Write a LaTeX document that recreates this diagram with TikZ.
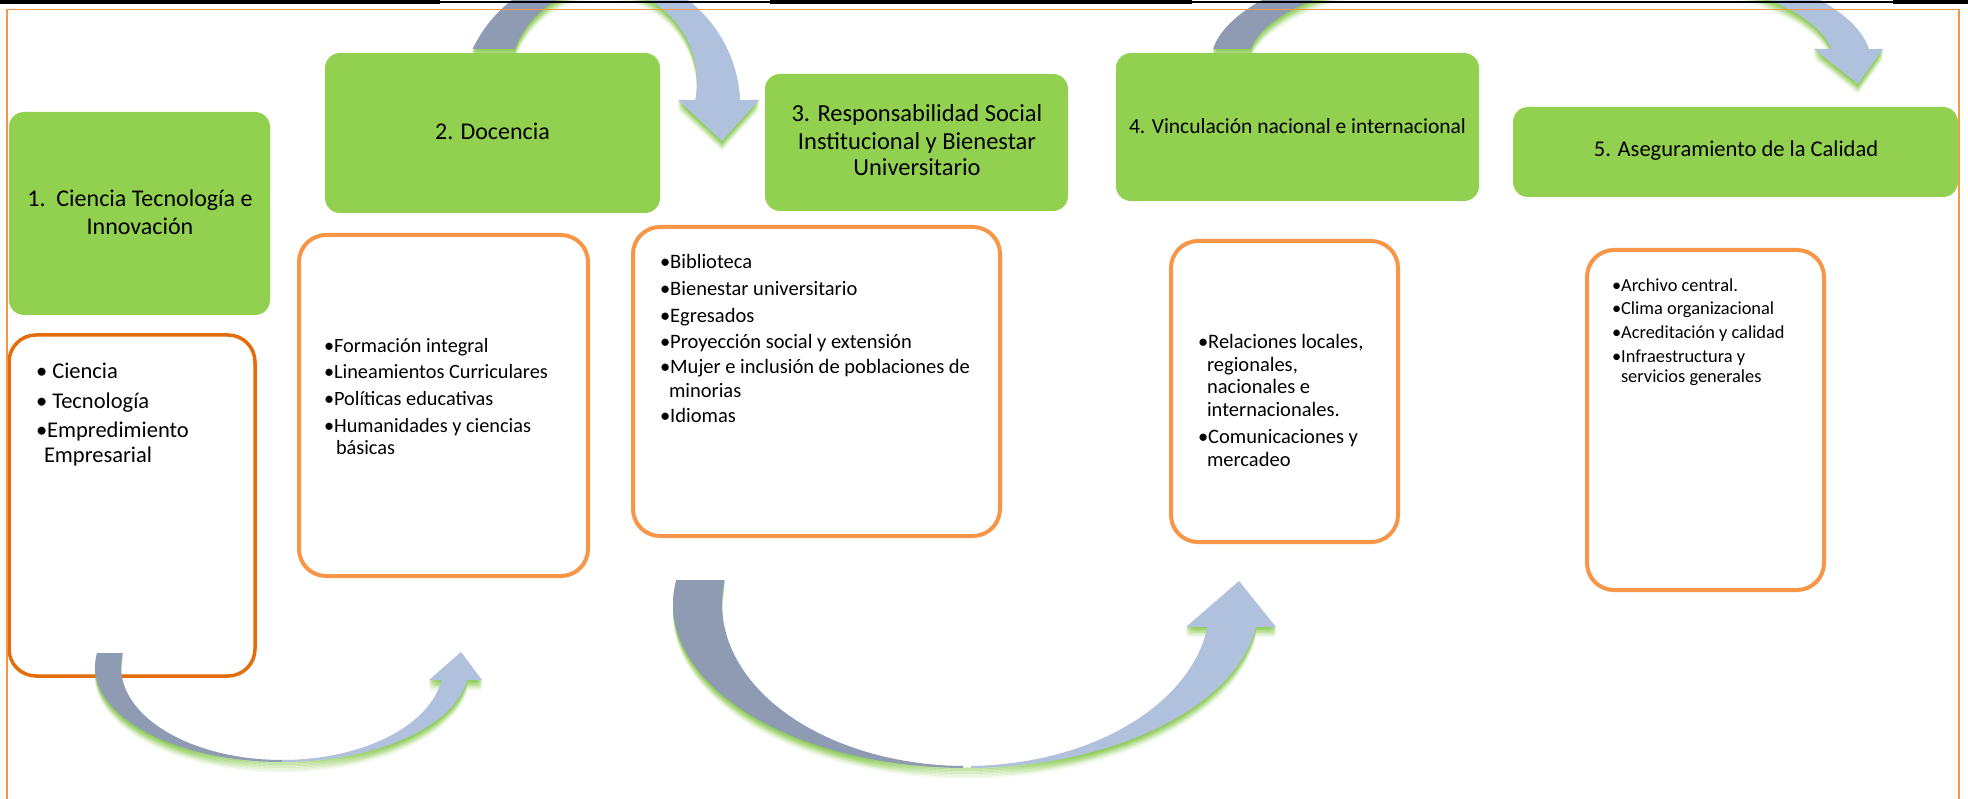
\documentclass[tikz,border=0pt]{standalone}
\usepackage{fontspec}
\setmainfont{Carlito}
\definecolor{gbox}{HTML}{92D050}
\definecolor{dorange}{HTML}{E46C0A}
\definecolor{lorange}{HTML}{F79646}
\definecolor{arrdark}{HTML}{8E9BB3}
\definecolor{arrlight}{HTML}{B0C1DD}
\definecolor{glow}{HTML}{7FC63E}
\tikzset{
  greenbox/.style={fill=gbox, rounded corners=15pt, inner sep=0pt, outer sep=0pt},
  listbox/.style={draw=lorange, line width=4pt, fill=white, rounded corners=27pt, inner sep=0pt, outer sep=0pt},
  txt/.style={anchor=base west, inner sep=0pt, outer sep=0pt, text=black},
  ttl/.style={anchor=base, inner sep=0pt, outer sep=0pt, text=black},
}
\newcommand\putline[5]{\node[txt,font=\fontsize{#4pt}{#4pt}\selectfont] (#1) at (#2,#3) {#5};}
\newcommand\puttitle[5]{\node[ttl,font=\fontsize{#4pt}{#4pt}\selectfont] (#1) at (#2,#3) {#5};}
% arrow outlines (pixel coordinates, y downwards)
\newcommand\arrA{(97.1,653) -- plot[domain=188.5:7.9,samples=90] ({282+187*cos(\x)},{667+95*sin(\x)}) -- (482,680) -- (461,652) -- (429,680) -- plot[domain=8.04:188.66,samples=90] ({282+161*cos(\x)},{667+93*sin(\x)}) -- cycle}
\newcommand\arrB{(676.2,580) -- plot[domain=188.41:8.06,samples=120] ({966+293*cos(\x)},{604+164*sin(\x)}) -- (1276,627) -- (1239,581) -- (1186,627) -- plot[domain=8.16:188.52,samples=120] ({966+244*cos(\x)},{604+162*sin(\x)}) -- cycle}
\newcommand\arrC{(472.6,49) -- plot[domain=204.51:357.88,samples=80] ({600+140*cos(\x)},{105+135*sin(\x)}) -- (759,100) -- (722,141) -- (678,100) -- plot[domain=371.04:200.55,samples=80] ({603+94*cos(\x)},{82+94*sin(\x)}) -- cycle}
\newcommand\arrD{(1213.1,49) -- plot[domain=186.43:353.57,samples=120] ({1541+330*cos(\x)},{62+116*sin(\x)}) -- (1883,49) -- (1858,84) -- (1814,49) -- plot[domain=353.42:186.58,samples=120] ({1541+292*cos(\x)},{60+96*sin(\x)}) -- cycle}
\newcommand\drawarrow[3]{%
  \foreach \sh/\op in {1.5/0.4,3/0.33,4.5/0.27,6/0.22,7.5/0.16,9/0.11,10.5/0.07}{\fill[glow,opacity=\op,shift={(0,\sh)}] #1;}
  \begin{scope}\clip (0,-50) rectangle (#2,850); \fill[arrdark] #1; \end{scope}
  \begin{scope}\clip (#3,-50) rectangle (1968,850); \fill[arrlight] #1; \end{scope}
}
\begin{document}
\begin{tikzpicture}[x=1pt,y=-1pt]
\useasboundingbox (0,0) rectangle (1968,799);
\clip (0,0) rectangle (1968,799);
\fill[white] (0,0) rectangle (1968,799);

% upper arrows
\drawarrow{\arrC}{600}{600}
\drawarrow{\arrD}{1541}{1541}

% green title boxes
\node[greenbox, minimum width=261pt, minimum height=203pt] (g1) at (139.5,213.5) {};
\node[greenbox, minimum width=335pt, minimum height=160pt] (g2) at (492.5,133) {};
\node[greenbox, minimum width=303pt, minimum height=137pt] (g3) at (916.5,142.5) {};
\node[greenbox, minimum width=363pt, minimum height=148pt] (g4) at (1297.5,127) {};
\node[greenbox, minimum width=445pt, minimum height=90pt] (g5) at (1735.5,152) {};

% list boxes
\node[listbox, draw=dorange, line width=3.5pt, minimum width=246pt, minimum height=341pt] (l1) at (132,505.5) {};
\node[listbox, minimum width=289pt, minimum height=341pt] (l2) at (443.5,405.5) {};
\node[listbox, minimum width=367pt, minimum height=309pt] (l3) at (816.5,381.5) {};
\node[listbox, minimum width=227pt, minimum height=301pt] (l4) at (1284.5,391.5) {};
\node[listbox, minimum width=237pt, minimum height=340pt] (l5) at (1705.5,420) {};

% titles
\puttitle{t1a}{140}{207}{24}{1.\ \ Ciencia Tecnología e}
\puttitle{t1b}{140}{235}{24}{Innovación}
\puttitle{t2}{492.5}{140}{24}{2. Docencia}
\puttitle{t3a}{917}{122}{24.5}{3. Responsabilidad Social}
\puttitle{t3b}{917}{150}{24.5}{Institucional y Bienestar}
\puttitle{t3c}{917}{176}{24.5}{Universitario}
\puttitle{t4}{1297.5}{134}{21.5}{4. Vinculación nacional e internacional}
\puttitle{t5}{1736}{157}{22.5}{5. Aseguramiento de la Calidad}

% list texts
\putline{n11}{36}{379}{22.5}{• Ciencia}
\putline{n12}{36}{409}{22.5}{• Tecnología}
\putline{n13}{36}{438}{22.5}{•Empredimiento}
\putline{n14}{44}{462}{22.5}{Empresarial}

\putline{n21}{324}{353}{20.3}{•Formación integral}
\putline{n22}{324}{379}{20.3}{•Lineamientos Curriculares}
\putline{n23}{324}{406}{20.3}{•Políticas educativas}
\putline{n24}{324}{432}{20.3}{•Humanidades y ciencias}
\putline{n25}{336}{454}{20.3}{básicas}

\putline{n31}{660}{269}{20.5}{•Biblioteca}
\putline{n32}{660}{296}{20.5}{•Bienestar universitario}
\putline{n33}{660}{323}{20.5}{•Egresados}
\putline{n34}{660}{349}{20.5}{•Proyección social y extensión}
\putline{n35}{660}{374}{20.5}{•Mujer e inclusión de poblaciones de}
\putline{n36}{669}{398}{20.5}{minorias}
\putline{n37}{660}{423}{20.5}{•Idiomas}

\putline{n41}{1198}{349}{20.5}{•Relaciones locales,}
\putline{n42}{1207}{372}{20.5}{regionales,}
\putline{n43}{1207}{394}{20.5}{nacionales e}
\putline{n44}{1207}{417}{20.5}{internacionales.}
\putline{n45}{1198}{443}{20.5}{•Comunicaciones y}
\putline{n46}{1207}{466}{20.5}{mercadeo}

\putline{n51}{1612}{292}{18.4}{•Archivo central.}
\putline{n52}{1612}{315}{18.4}{•Clima organizacional}
\putline{n53}{1612}{339}{18.4}{•Acreditación y calidad}
\putline{n54}{1612}{363}{18.4}{•Infraestructura y}
\putline{n55}{1621}{383}{18.4}{servicios generales}

% lower arrows
\drawarrow{\arrA}{282}{282}
\drawarrow{\arrB}{963}{971}

% page frame and header rules
\draw[lorange, line width=1.5pt] (7,9.5) rectangle (1959,810);
\fill[black] (0,0) rectangle (440,4);
\fill[black] (440,1.2) rectangle (770,2.6);
\fill[black] (770,0) rectangle (1192,4);
\fill[black] (1192,1.2) rectangle (1893,2.6);
\fill[black] (1893,0) rectangle (1968,4);
\end{tikzpicture}
\end{document}
